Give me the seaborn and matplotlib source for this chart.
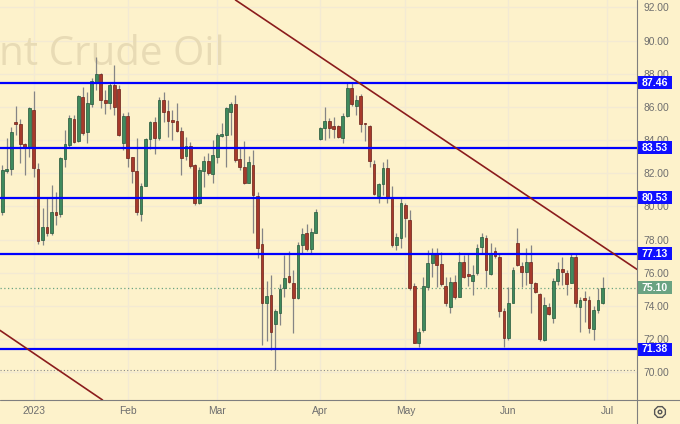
import matplotlib
matplotlib.use("Agg")
import matplotlib.pyplot as plt
import matplotlib.transforms as mtransforms
from matplotlib.patches import Rectangle, RegularPolygon, Circle
from matplotlib.lines import Line2D
import seaborn as sns

# daily candles, 21 Dec 2022 .. 30 Jun 2023 (bar index = trading day)
opens = [79.64, 82.13, 82.24, 85.11, 84.97, 83.76, 83.56, 85.81, 82.24, 77.97,
         78.77, 78.37, 79.68, 79.52, 82.84, 83.70, 85.25, 83.96, 86.58, 84.50,
         86.17, 87.52, 87.98, 86.41, 86.22, 87.32, 87.08, 83.80, 85.45, 82.96,
         82.15, 79.52, 81.23, 84.04, 85.07, 84.10, 86.41, 85.75, 85.21, 85.15,
         84.56, 83.06, 83.66, 82.49, 80.18, 82.13, 82.75, 81.95, 82.99, 84.24,
         84.32, 85.71, 86.17, 82.84, 82.39, 81.43, 82.49, 80.62, 77.73, 74.19,
         74.65, 72.90, 73.55, 75.06, 75.80, 75.36, 74.45, 77.67, 78.37, 77.41,
         78.41, 84.09, 84.74, 85.17, 84.85, 84.85, 84.10, 85.47, 87.12, 86.07,
         86.66, 85.05, 84.85, 82.55, 80.64, 81.35, 82.30, 80.58, 77.67, 78.07,
         80.08, 79.18, 75.20, 71.78, 72.54, 75.16, 76.56, 77.21, 76.50, 75.20,
         73.91, 75.46, 74.55, 76.66, 75.92, 75.50, 75.99, 77.57, 78.07, 75.92,
         77.33, 76.96, 73.71, 72.04, 74.19, 77.77, 76.40, 76.06, 76.66, 75.40,
         74.71, 71.94, 73.95, 73.25, 75.52, 76.20, 75.99, 75.40, 76.93, 73.91,
         74.47, 74.35, 72.59, 73.75, 74.15]
highs = [82.50, 84.12, 84.80, 86.05, 85.27, 83.82, 86.01, 86.97, 82.62, 79.90,
         80.50, 81.29, 80.88, 83.00, 84.60, 85.51, 85.51, 86.72, 87.22, 86.92,
         87.72, 89.03, 88.02, 87.02, 87.52, 88.53, 87.32, 85.61, 85.71, 82.98,
         84.12, 81.39, 84.10, 85.17, 85.41, 86.60, 86.91, 86.41, 85.81, 86.23,
         84.80, 84.20, 83.90, 82.55, 82.39, 83.04, 83.20, 84.00, 84.44, 85.01,
         86.01, 86.31, 86.72, 83.50, 83.96, 83.04, 83.40, 80.88, 78.68, 75.52,
         75.86, 73.79, 75.32, 77.07, 77.32, 76.16, 77.87, 78.68, 78.93, 78.68,
         79.82, 84.80, 85.97, 85.31, 85.41, 84.91, 85.61, 87.42, 87.42, 86.72,
         86.78, 85.05, 84.91, 82.80, 81.43, 82.69, 82.84, 81.23, 78.37, 80.49,
         80.22, 79.78, 75.36, 72.65, 75.76, 77.37, 77.47, 77.47, 77.27, 75.76,
         75.76, 75.86, 77.27, 77.07, 77.17, 76.46, 77.73, 78.41, 78.27, 77.77,
         77.57, 77.21, 73.85, 75.15, 76.36, 78.68, 76.66, 77.47, 77.67, 75.46,
         74.79, 74.55, 74.15, 75.68, 76.66, 76.93, 76.16, 77.17, 77.17, 74.51,
         74.91, 74.59, 73.99, 75.06, 75.72]
lows = [79.50, 82.01, 81.89, 84.30, 82.62, 81.89, 82.98, 81.79, 77.73, 77.67,
        78.21, 78.27, 78.88, 79.38, 82.39, 83.60, 83.80, 83.90, 84.30, 83.80,
        86.01, 87.02, 85.91, 85.57, 85.85, 85.51, 84.24, 83.40, 82.39, 81.39,
        79.48, 79.13, 81.20, 83.44, 83.16, 84.00, 85.11, 84.20, 84.00, 84.50,
        81.89, 82.80, 82.30, 80.10, 80.14, 81.19, 81.89, 81.39, 82.63, 84.20,
        82.39, 84.30, 82.70, 82.19, 81.35, 81.39, 78.37, 76.87, 71.64, 71.90,
        71.34, 70.13, 72.85, 74.55, 75.40, 72.38, 74.39, 77.17, 77.33, 77.21,
        78.37, 84.00, 84.00, 84.10, 84.10, 84.10, 83.80, 85.41, 86.05, 85.51,
        84.50, 83.96, 82.39, 80.68, 80.22, 80.68, 80.22, 77.57, 77.37, 77.47,
        78.17, 74.95, 71.74, 71.50, 72.44, 74.95, 75.76, 75.15, 75.20, 73.99,
        73.55, 74.39, 74.51, 75.66, 75.20, 74.65, 75.86, 77.17, 75.15, 75.86,
        76.87, 73.35, 71.50, 71.94, 74.15, 76.40, 75.15, 75.26, 73.55, 74.79,
        71.90, 71.90, 73.45, 72.95, 75.26, 75.26, 74.65, 75.36, 73.91, 72.44,
        73.05, 72.34, 71.94, 73.59, 74.11]
closes = [82.19, 82.25, 84.50, 84.95, 83.74, 83.60, 85.95, 82.30, 77.93, 78.77,
          78.41, 79.68, 79.50, 82.90, 83.76, 85.35, 83.90, 86.67, 84.44, 86.25,
          87.56, 87.98, 86.41, 86.22, 87.32, 86.01, 84.30, 85.45, 82.90, 82.15,
          79.64, 81.23, 84.04, 85.07, 84.10, 86.41, 85.71, 85.17, 85.11, 84.54,
          82.90, 83.64, 82.43, 80.18, 82.19, 82.75, 81.99, 83.10, 84.30, 84.36,
          85.91, 86.17, 82.80, 82.36, 81.43, 82.66, 80.68, 77.47, 74.19, 74.59,
          72.44, 73.71, 75.00, 75.66, 75.46, 74.45, 77.67, 78.33, 77.41, 78.47,
          79.68, 84.71, 85.17, 84.71, 84.68, 84.20, 85.47, 87.12, 86.17, 86.41,
          84.97, 84.95, 82.75, 80.73, 81.35, 82.30, 80.49, 77.67, 78.17, 80.22,
          79.28, 75.06, 71.78, 72.44, 75.20, 76.56, 77.21, 76.46, 75.32, 74.15,
          75.46, 74.55, 76.66, 75.76, 75.80, 75.86, 77.47, 78.17, 76.16, 77.21,
          77.00, 73.71, 72.04, 74.19, 76.16, 76.46, 76.06, 76.66, 75.40, 74.85,
          71.98, 74.05, 73.51, 75.52, 76.20, 76.06, 75.30, 76.93, 74.15, 74.35,
          74.35, 72.65, 73.75, 74.35, 75.10]

month_ticks = [7, 28, 48, 71, 90, 113, 135]
month_labels = ["2023", "Feb", "Mar", "Apr", "May", "Jun", "Jul"]

levels = [87.46, 83.53, 80.53, 77.13, 71.38]
last_price = 75.10
range_low = 70.12

# trend line anchors (bar index, price)
upper_trend = [(75.4, 88.22), (141.7, 76.20)]
lower_trend = [(-0.5, 72.52), (22.5, 68.30)]

BG = "#fdf2cb"
GREEN, GREEN_EDGE = "#3f8a5d", "#24563a"
RED, RED_EDGE = "#a73a2b", "#6b2018"

sns.set_theme(style="white", rc={"axes.facecolor": BG, "figure.facecolor": BG})
plt.rcParams["font.family"] = ["Liberation Sans", "DejaVu Sans"]

W, H = 680, 424
fig = plt.figure(figsize=(W / 100, H / 100), dpi=100)
ax = fig.add_axes([0, 24 / H, 637 / W, 400 / H])

x = list(range(len(opens)))
up = [c >= o for o, c in zip(opens, closes)]
bottoms = [min(o, c) for o, c in zip(opens, closes)]
heights = [max(abs(c - o), 0.08) for o, c in zip(opens, closes)]

ax.vlines(x, lows, highs, color="#858585", lw=0.9, zorder=2)
ax.bar(x, heights, bottom=bottoms, width=0.62,
       color=[GREEN if u else RED for u in up],
       edgecolor=[GREEN_EDGE if u else RED_EDGE for u in up],
       linewidth=0.5, zorder=3)

ax.text(225 / 637, 335 / 400, "Brent Crude Oil", transform=ax.transAxes,
        ha="right", va="baseline", fontsize=29, color="#e8dbb5",
        family="Open Sans", zorder=1)

for lv in levels:
    ax.axhline(lv, color="#0000ff", lw=1.6, zorder=5)
ax.axhline(last_price, color="#6aa382", lw=0.9, ls=(0, (1, 2)), zorder=1.5)
ax.axhline(range_low, color="#8a8a8a", lw=0.8, ls=(0, (1, 2)), zorder=1.5)

for pts in (upper_trend, lower_trend):
    ax.axline(pts[0], pts[1], color="#8b1c1c", lw=1.2, zorder=5)

ax.set_xlim(-0.5, 141.7)
ax.set_ylim(68.32, 92.45)

ax.set_xticks(month_ticks)
ax.set_xticklabels(month_labels)
yt = list(range(70, 93, 2))
ax.set_yticks(yt)
ax.set_yticklabels([f"{v:.2f}" for v in yt])
ax.yaxis.tick_right()
ax.tick_params(axis="y", length=0, pad=4.5, labelsize=7.4, labelcolor="#6e6e6e")
ax.tick_params(axis="x", length=0, pad=4.5, labelsize=7.4, labelcolor="#6e6e6e")
for lab in ax.get_yticklabels():
    lab.set_horizontalalignment("left")
ax.grid(True, color="#f3ead3", lw=1.0, zorder=0)
ax.set_axisbelow(True)
sns.despine(ax=ax, left=True, bottom=True, right=True, top=True)

# price tags on the right scale
blend = mtransforms.blended_transform_factory(ax.transAxes, ax.transData)
tag_w = 35 / 637
tags = [(lv, "#0f0fff") for lv in levels] + [(last_price, "#6aa382")]
for lv, col in tags:
    ax.add_patch(Rectangle((1.0005, lv - 0.39), tag_w, 0.78, transform=blend,
                           facecolor=col, edgecolor="none", clip_on=False, zorder=6))
    ax.text(1 + tag_w / 2, lv, f"{lv:.2f}", transform=blend, ha="center",
            va="center", color="white", fontsize=7.6, fontweight="bold",
            clip_on=False, zorder=7)

# frame lines across the whole picture
fig.add_artist(Line2D([0, 1], [24 / H, 24 / H], color="#7f7f7f", lw=0.8,
                      transform=fig.transFigure))
fig.add_artist(Line2D([637 / W, 637 / W], [0, 1], color="#7f7f7f", lw=0.8,
                      transform=fig.transFigure))

# settings gear in the corner
gx, gy = 660 / 100, (H - 412) / 100
fig.add_artist(RegularPolygon((gx, gy), numVertices=8, radius=0.058,
                              orientation=0.39, facecolor="none",
                              edgecolor="#555555", lw=1.0,
                              transform=fig.dpi_scale_trans))
fig.add_artist(Circle((gx, gy), 0.018, facecolor="none", edgecolor="#555555",
                      lw=1.0, transform=fig.dpi_scale_trans))

fig.savefig("out.png", dpi=100, facecolor=BG)
